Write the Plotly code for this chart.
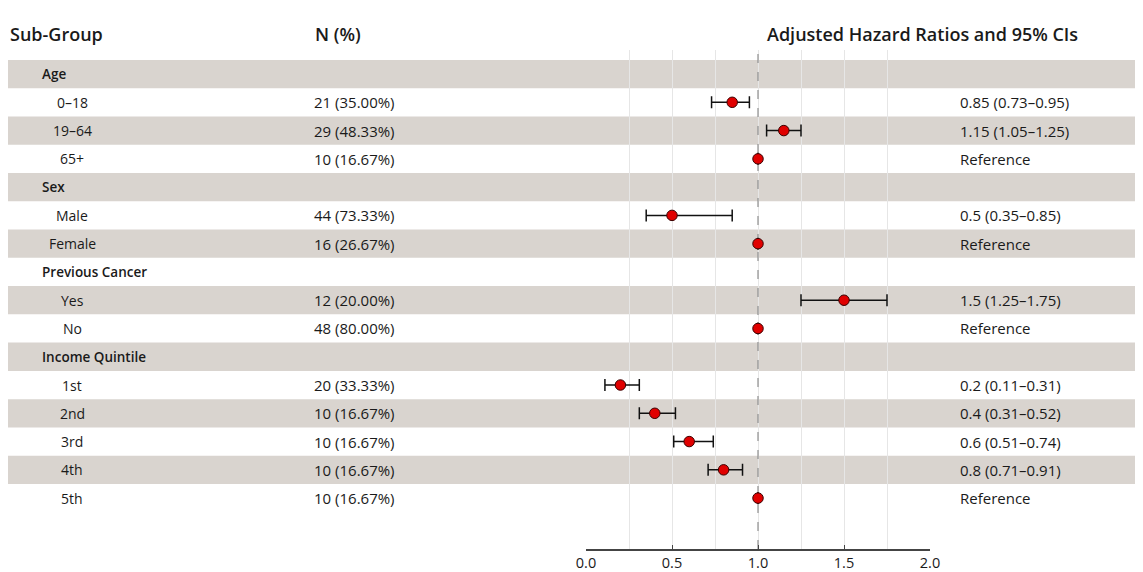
import plotly.graph_objects as go

# Rows of the forest table, top to bottom.
LABELS = ["Age", "0–18", "19–64", "65+",
          "Sex", "Male", "Female",
          "Previous Cancer", "Yes", "No",
          "Income Quintile", "1st", "2nd", "3rd", "4th", "5th"]
IS_HEADER = [True, False, False, False,
             True, False, False,
             True, False, False,
             True, False, False, False, False, False]
N = [None, 21, 29, 10,
     None, 44, 16,
     None, 12, 48,
     None, 20, 10, 10, 10, 10]
TOTAL = 60
HR = [None, 0.85, 1.15, 1.0,
      None, 0.5, 1.0,
      None, 1.5, 1.0,
      None, 0.2, 0.4, 0.6, 0.8, 1.0]
LO = [None, 0.73, 1.05, None,
      None, 0.35, None,
      None, 1.25, None,
      None, 0.11, 0.31, 0.51, 0.71, None]
HI = [None, 0.95, 1.25, None,
      None, 0.85, None,
      None, 1.75, None,
      None, 0.31, 0.52, 0.74, 0.91, None]
X_TICKS = [0.0, 0.5, 1.0, 1.5, 2.0]

FONT = "'Open Sans', 'Noto Sans', sans-serif"
BAND = "#d9d4cf"
TXT = "#1a1a1a"

# The page puts the figure 8px in from the top-left corner.
OFF = 8
W, H = 1135, 564
TOP, BOT = 50 - OFF, 549 - OFF   # plot area, figure pixels


def px(x):
    # page x pixel -> paper fraction
    return (x - OFF) / W


def py(y):
    # page y pixel -> paper fraction
    return (BOT - (y - OFF)) / (BOT - TOP)


rows = list(range(len(LABELS)))
ys = [-i for i in rows]
YR = [-16.8, 0.85]

fig = go.Figure()

# Shaded bands on every other row, across the full width.
for i in rows:
    if i % 2 == 0:
        fig.add_shape(type="rect", xref="paper", yref="y",
                      x0=px(8), x1=1.0, y0=-i - 0.5, y1=-i + 0.5,
                      fillcolor=BAND, line=dict(width=0), layer="between")

# Reference line at HR = 1.
fig.add_shape(type="line", xref="x", yref="y", x0=1, x1=1, y0=YR[0], y1=YR[1],
              line=dict(color="#8f8f8f", width=1.2, dash="dash"), layer="between")

pts = [i for i in rows if HR[i] is not None]
fig.add_trace(go.Scatter(
    x=[HR[i] for i in pts],
    y=[ys[i] for i in pts],
    mode="markers",
    marker=dict(color="#e00000", size=10.5, line=dict(color="#3a0000", width=1)),
    error_x=dict(
        type="data", symmetric=False,
        array=[(HI[i] - HR[i]) if HI[i] is not None else 0 for i in pts],
        arrayminus=[(HR[i] - LO[i]) if LO[i] is not None else 0 for i in pts],
        color="#111111", thickness=1.5, width=6,
    ),
    showlegend=False, hoverinfo="skip",
))

ann = []
# Column headers.
for text, x in [("Sub-Group", 8), ("N (%)", 313), ("Adjusted Hazard Ratios and 95% CIs", 765)]:
    ann.append(dict(text=text, xref="paper", yref="paper", x=px(x), y=py(34),
                    xanchor="left", yanchor="middle", showarrow=False,
                    font=dict(size=18, color=TXT, family=FONT, weight=600)))

for i in rows:
    if IS_HEADER[i]:
        ann.append(dict(text=LABELS[i], xref="paper", yref="y", x=px(40), y=ys[i],
                        xanchor="left", showarrow=False,
                        font=dict(size=13.5, color=TXT, family=FONT, weight=600)))
        continue
    ann.append(dict(text=LABELS[i], xref="paper", yref="y", x=px(72), y=ys[i],
                    xanchor="center", showarrow=False,
                    font=dict(size=14, color=TXT, family=FONT)))
    ann.append(dict(text=f"{N[i]} ({100 * N[i] / TOTAL:.2f}%)", xref="paper", yref="y",
                    x=px(312), y=ys[i], xanchor="left", showarrow=False,
                    font=dict(size=15, color=TXT, family=FONT)))
    if LO[i] is None:
        est = "Reference"
    else:
        est = f"{HR[i]:g} ({LO[i]:g}–{HI[i]:g})"
    ann.append(dict(text=est, xref="paper", yref="y", x=px(958), y=ys[i],
                    xanchor="left", showarrow=False,
                    font=dict(size=15, color=TXT, family=FONT)))

fig.update_layout(
    width=W, height=H,
    margin=dict(l=0, r=0, t=TOP, b=H - BOT, autoexpand=False),
    paper_bgcolor="white", plot_bgcolor="white",
    font=dict(family=FONT, color=TXT, size=13),
    annotations=ann,
    xaxis=dict(
        domain=[px(586), px(930)], range=[0, 2], automargin=False,
        tickvals=X_TICKS, ticktext=[f"{v:.1f}" for v in X_TICKS],
        ticks="inside", ticklen=4, tickcolor="#444", tickfont=dict(size=14.5),
        showline=True, linecolor="#444", linewidth=1.5,
        showgrid=True, gridcolor="#e6e6e6", gridwidth=1,
        minor=dict(dtick=0.25, showgrid=True, gridcolor="#e6e6e6"),
        zeroline=False,
    ),
    yaxis=dict(range=YR, visible=False, showgrid=False, zeroline=False, automargin=False),
)

fig.write_html("out.html")
